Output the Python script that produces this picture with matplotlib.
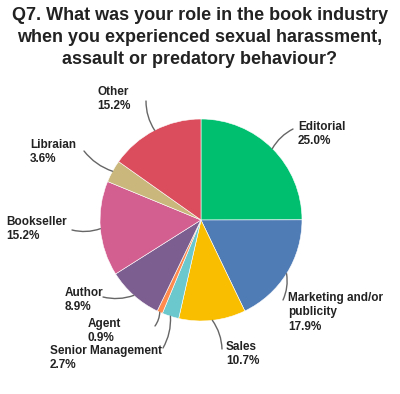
import matplotlib.pyplot as plt
import numpy as np

plt.rcParams['font.family'] = ['Liberation Sans', 'DejaVu Sans']

labels = ['Editorial', 'Marketing and/or\npublicity', 'Sales', 'Senior Management',
          'Agent', 'Author', 'Bookseller', 'Libraian', 'Other']
values = [25.0, 17.9, 10.7, 2.7, 0.9, 8.9, 15.2, 3.6, 15.2]
colors = ['#00bf6f', '#507cb6', '#f9be00', '#6bc8cd', '#ff8b4f',
          '#7d5e90', '#d25f90', '#c9b77c', '#db4d5c']

# label text positions in pixel space (x, y from top)
text_pos = [(298, 121), (288, 292), (226, 341), (50, 345), (88, 318),
            (65, 287), (6, 216), (30, 139), (97, 86)]
# end of leader line, pixel space
elbow = [(293, 129), (283, 300), (222, 349), (163, 348), (155, 326),
         (103, 297), (72, 230), (84, 151), (146, 101)]

CX, CY, R = 201, 394 - 220, 101


def main():
    fig = plt.figure(figsize=(4.0, 3.94), dpi=100)
    ax = fig.add_axes([0, 0, 1, 1])

    wedges, _ = ax.pie(values, colors=colors, startangle=90, counterclock=False,
                       center=(CX, CY), radius=R, frame=True,
                       wedgeprops=dict(edgecolor='white', linewidth=0.4))
    ax.set_xlim(0, 400)
    ax.set_ylim(0, 394)
    ax.set_aspect('equal')
    ax.axis('off')

    for w, lab, val, tp, el in zip(wedges, labels, values, text_pos, elbow):
        ang = np.deg2rad((w.theta1 + w.theta2) / 2)
        px = CX + R * np.cos(ang)
        py = CY + R * np.sin(ang)
        ex, ey = el[0], 394 - el[1]
        ax.annotate('', xy=(px, py), xytext=(ex, ey),
                    arrowprops=dict(arrowstyle='-', color='#666666', lw=1.0,
                                    connectionstyle='arc3,rad=0.15',
                                    shrinkA=0, shrinkB=0))
        ax.text(tp[0], 394 - tp[1], f'{lab}\n{val:.1f}%', ha='left', va='top',
                fontsize=8.5, fontweight='bold', color='#222222', linespacing=1.25)

    fig.text(0.5, 0.982, 'Q7. What was your role in the book industry\n'
             'when you experienced sexual harassment,\nassault or predatory behaviour?',
             ha='center', va='top', fontsize=13, fontweight='bold', color='#222222',
             linespacing=1.38)

    fig.savefig('out.png', dpi=100)


if __name__ == '__main__':
    main()
